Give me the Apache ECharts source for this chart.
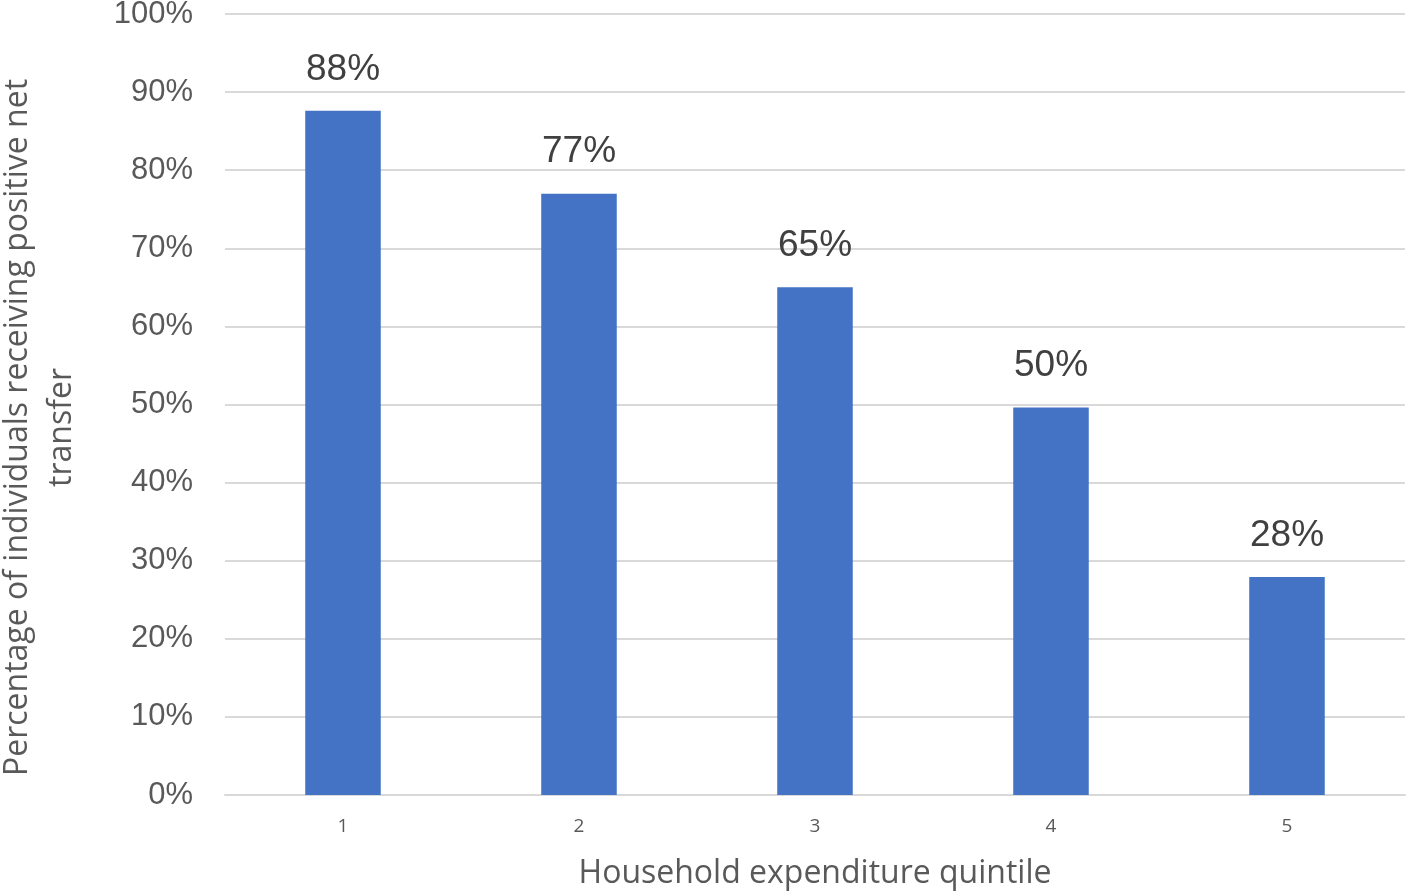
<!DOCTYPE html>
<html>
<head>
<meta charset="utf-8">
<script src="https://cdn.jsdelivr.net/npm/echarts@6/dist/echarts.min.js"></script>
<style>
html,body{margin:0;padding:0;background:#fff;}
#chart{width:1409px;height:893px;}
</style>
</head>
<body>
<div id="chart"></div>
<script>
const categories = ['1', '2', '3', '4', '5'];
const values = [87.6, 77.0, 65.0, 49.6, 27.9];
const yTicks = [0, 10, 20, 30, 40, 50, 60, 70, 80, 90, 100];
const xTitle = 'Household expenditure quintile';
const yTitle = 'Percentage of individuals receiving positive net\ntransfer';

const chart = echarts.init(document.getElementById('chart'));
chart.setOption({
  animation: false,
  grid: { left: 225, right: 4, top: 14, bottom: 98, containLabel: false, outerBoundsMode: 'none' },
  xAxis: {
    type: 'category',
    data: categories,
    axisTick: { show: false },
    axisLine: { lineStyle: { color: '#d9d9d9', width: 2 } },
    axisLabel: { color: '#595959', fontSize: 19, margin: 22, fontFamily: 'Open Sans' },
    name: xTitle,
    nameLocation: 'middle',
    nameGap: 63,
    nameTextStyle: { color: '#595959', fontSize: 32, fontFamily: 'Open Sans' }
  },
  yAxis: {
    type: 'value',
    min: yTicks[0],
    max: yTicks[yTicks.length - 1],
    interval: 10,
    axisLine: { show: false },
    axisTick: { show: false },
    splitLine: { lineStyle: { color: '#d9d9d9', width: 2 } },
    axisLabel: {
      color: '#595959', fontSize: 31, margin: 32, fontFamily: 'Liberation Sans',
      formatter: v => v + '%'
    },
    name: yTitle,
    nameLocation: 'middle',
    nameRotate: 90,
    nameGap: 141,
    nameTextStyle: { color: '#595959', fontSize: 32, lineHeight: 44, fontFamily: 'Open Sans', padding: [0, 46, 0, 0] }
  },
  series: [{
    type: 'bar',
    data: values,
    barWidth: '32%',
    itemStyle: { color: '#4472C4' },
    label: {
      show: true,
      position: 'top',
      distance: 23,
      color: '#404040',
      fontSize: 37,
      fontFamily: 'Liberation Sans',
      formatter: p => Math.round(p.value) + '%'
    }
  }]
});
</script>
</body>
</html>
